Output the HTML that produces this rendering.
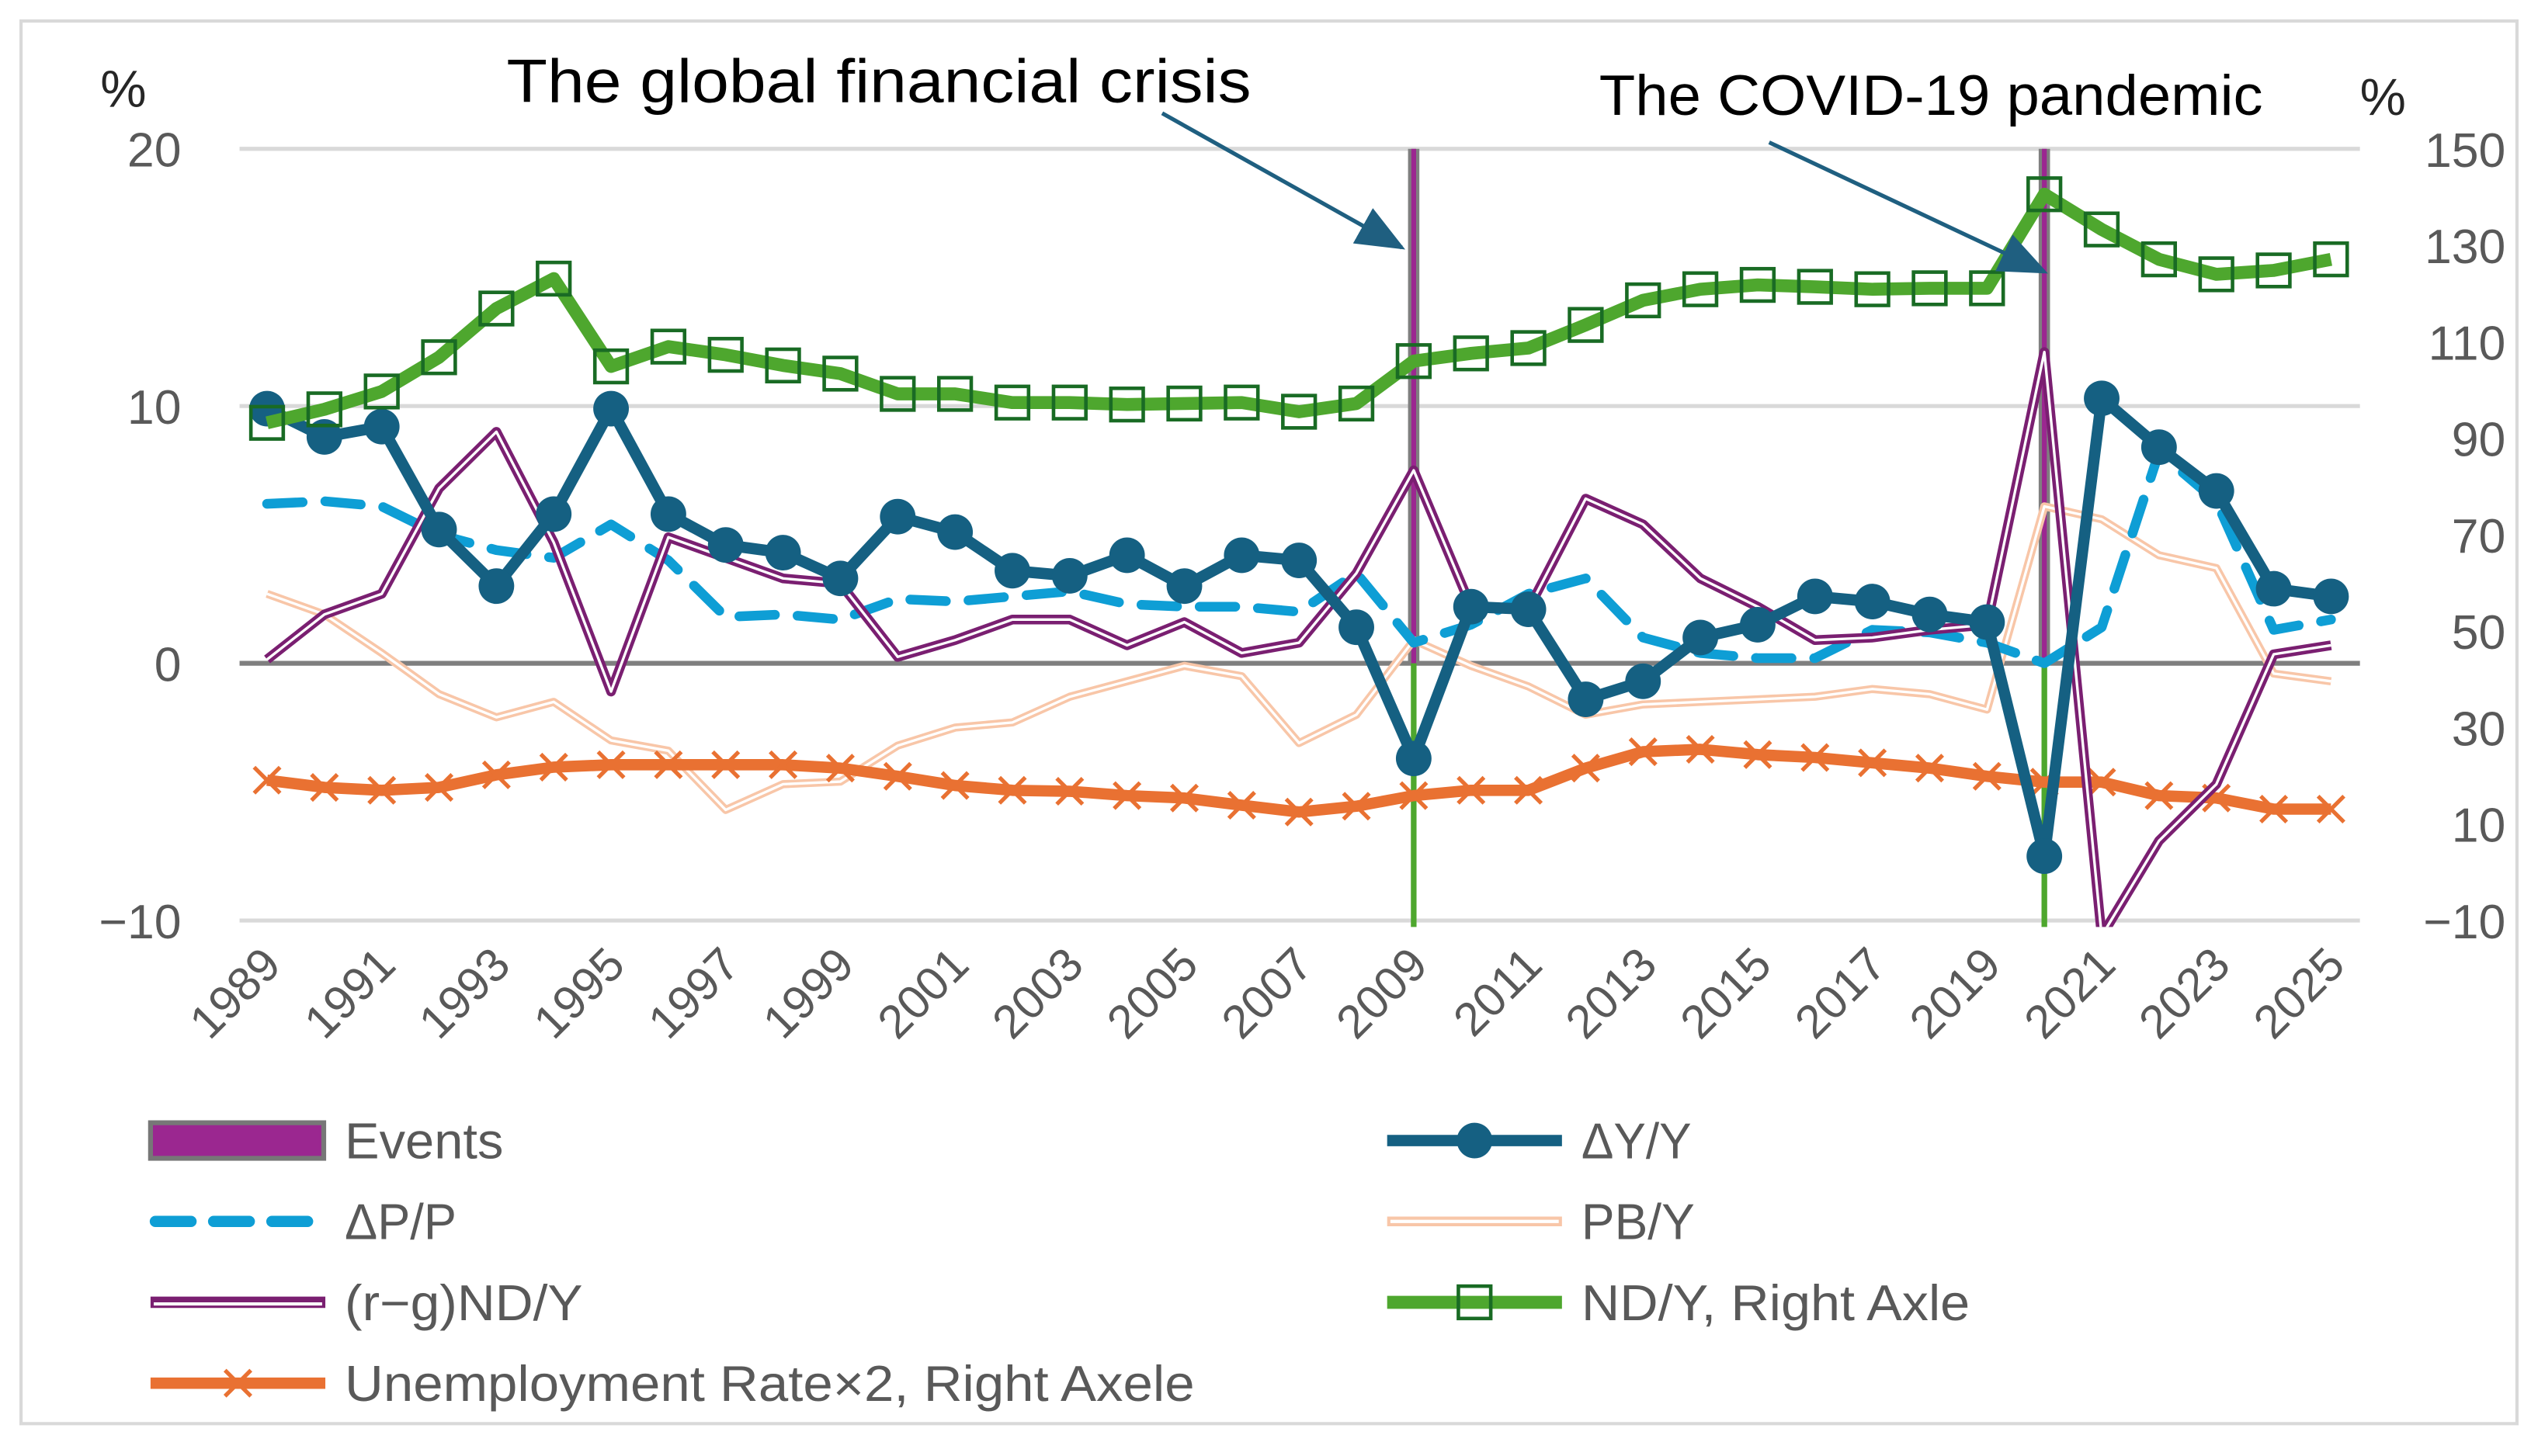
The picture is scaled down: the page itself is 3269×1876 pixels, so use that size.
<!DOCTYPE html>
<html><head><meta charset="utf-8"><style>
html,body{margin:0;padding:0;background:#fff;}
svg{display:block;font-family:"Liberation Sans","DejaVu Sans",sans-serif;}
</style></head><body>
<svg id="chart" width="3269" height="1876" viewBox="0 0 1568 900" preserveAspectRatio="none" xmlns="http://www.w3.org/2000/svg">
<rect x="13" y="13" width="1542" height="867" fill="#fff" stroke="#d9d9d9" stroke-width="2"/>
<defs><clipPath id="plotclip"><rect x="148" y="88" width="1312" height="485"/></clipPath>
<marker id="ah" markerWidth="12" markerHeight="10" refX="11" refY="5" orient="auto" markerUnits="strokeWidth"><path d="M0,0 L12,5 L0,10 z" fill="#1f5f80"/></marker></defs>
<g id="grid"></g>
<g id="events"></g>
<g id="series" clip-path="url(#plotclip)"></g>
<g id="axes"></g>
<text x="62" y="66" font-size="32" fill="#262626">%</text>
<text x="1458" y="71" font-size="32" fill="#262626">%</text>
<text x="313" y="63" font-size="38" fill="#000" textLength="460" lengthAdjust="spacingAndGlyphs">The global financial crisis</text>
<line x1="718" y1="70" x2="866" y2="153" stroke="#1f5f80" stroke-width="2.5" marker-end="url(#ah)"/>
<text x="988" y="71" font-size="35" fill="#000" textLength="410" lengthAdjust="spacingAndGlyphs">The COVID-19 pandemic</text>
<line x1="1093" y1="88" x2="1263" y2="168" stroke="#1f5f80" stroke-width="2.5" marker-end="url(#ah)"/>
<g id="legend"></g>
</svg>
<script>
const years=[];for(let y=1989;y<=2025;y++)years.push(y);
const dY=[9.9,8.8,9.2,5.2,3.0,5.8,9.9,5.8,4.6,4.3,3.3,5.7,5.1,3.6,3.4,4.2,3.0,4.2,4.0,1.4,-3.7,2.2,2.1,-1.4,-0.7,1.0,1.5,2.6,2.4,1.9,1.6,-7.5,10.3,8.4,6.7,2.9,2.6];
const dP=[6.2,6.3,6.1,5.0,4.4,4.1,5.4,4.0,1.8,1.9,1.7,2.5,2.4,2.6,2.8,2.3,2.2,2.2,2.0,3.5,0.8,1.5,2.7,3.3,1.0,0.4,0.2,0.2,1.3,1.2,0.8,0.0,1.4,8.2,6.3,1.3,1.7];
const rg=[0.15,1.9,2.7,6.8,9.0,4.7,-1.1,4.9,4.1,3.3,3.1,0.25,0.9,1.7,1.7,0.7,1.6,0.4,0.8,3.5,7.5,2.2,2.1,6.4,5.4,3.3,2.2,0.9,1.0,1.3,1.5,12.1,-10.6,-6.9,-4.7,0.35,0.7];
const pb=[2.7,1.9,0.4,-1.2,-2.1,-1.5,-3.0,-3.4,-5.7,-4.7,-4.6,-3.2,-2.5,-2.3,-1.3,-0.7,-0.1,-0.5,-3.1,-2.0,0.9,-0.1,-0.9,-2.0,-1.6,-1.5,-1.4,-1.3,-1.0,-1.2,-1.8,6.1,5.6,4.2,3.7,-0.4,-0.7];
const ndy=[93.2,96.0,99.7,106.8,116.9,123.1,104.9,109.0,107.3,105.1,103.4,99.2,99.2,97.4,97.4,97.0,97.2,97.4,95.5,97.2,106.0,107.6,108.7,113.5,118.6,120.9,121.8,121.4,120.9,121.1,121.1,140.6,133.3,127.1,124.0,124.8,127.1];
const unemp=[19.1,17.6,17.0,17.6,20.2,21.8,22.3,22.3,22.3,22.3,21.6,19.9,18.0,17.0,16.8,15.9,15.4,13.9,12.5,13.7,15.9,17.0,17.0,21.6,25.0,25.5,24.4,23.8,22.7,21.6,19.9,18.7,18.7,15.9,15.4,13.1,13.1];
const eventYears=[2009,2020];
const leftTicks=[20,10,0,-10];
const rightTicks=[150,130,110,90,70,50,30,10,-10];

const NS="http://www.w3.org/2000/svg";
const X=y=>165+(y-1989)*35.42;
const YL=v=>410-v*15.9;
const YR=v=>569-(v+10)*2.981;
function mk(tag,attrs,parent){const e=document.createElementNS(NS,tag);for(const k in attrs)e.setAttribute(k,attrs[k]);parent.appendChild(e);return e;}
const grid=document.getElementById('grid'),axes=document.getElementById('axes'),ser=document.getElementById('series'),ev=document.getElementById('events'),lg=document.getElementById('legend');

leftTicks.forEach(t=>{
  const l=mk('line',{x1:148,x2:1458,y1:YL(t),y2:YL(t),stroke:t===0?'#7f7f7f':'#d9d9d9','stroke-width':t===0?3:2.5},grid);
  
  
  const tx=mk('text',{x:112,y:YL(t)+11,'font-size':30,fill:'#595959','text-anchor':'end'},axes);
  tx.textContent=t<0?'\u2212'+Math.abs(t):String(t);
  
  
});
rightTicks.forEach(t=>{
  const tx=mk('text',{x:1548,y:YR(t)+11,'font-size':30,fill:'#595959','text-anchor':'end'},axes);
  tx.textContent=t<0?'\u2212'+Math.abs(t):String(t);
  
  
});
years.forEach(y=>{
  if((y-1989)%2)return;
  const x=X(y)+10,yy=598;
  const tx=mk('text',{x:x,y:yy,'font-size':29,fill:'#595959','text-anchor':'end',transform:`rotate(-45 ${x} ${yy})`},axes);
  tx.textContent=y;
  
  
});
eventYears.forEach(y=>{
  const x=X(y);
  const a=mk('rect',{x:x-3.5,y:YL(20),width:7,height:YL(0)-YL(20),fill:'#7f7f7f'},ev);
  
  
  const a2=mk('rect',{x:x-1.5,y:YL(20),width:3,height:YL(0)-YL(20),fill:'#9b2790'},ev);
  
  
  const b=mk('line',{x1:x,x2:x,y1:YL(0),y2:YL(-10)+4,stroke:'#4ea72e','stroke-width':3.5},ev);
  
  
});
function pts(arr,f){return arr.map((v,i)=>X(years[i])+','+f(v)).join(' ');}
function line(arr,f,attrs,name){const p=mk('polyline',Object.assign({points:pts(arr,f),fill:'none','stroke-linejoin':'round'},attrs),ser);return p;}
line(pb,YL,{stroke:'#f8c6a8','stroke-width':5},'pby-line');
line(pb,YL,{stroke:'#fff','stroke-width':1.6},'pby-line-inner');
line(unemp,YR,{stroke:'#e97132','stroke-width':7},'unemployment-line');
unemp.forEach((v,i)=>{const x=X(years[i]),y=YR(v),s=8;
  const g=mk('path',{d:`M${x-s},${y-s}L${x+s},${y+s}M${x-s},${y+s}L${x+s},${y-s}`,stroke:'#e97132','stroke-width':2.5,fill:'none'},ser);
  
  });
line(dP,YL,{stroke:'#0e9ed5','stroke-width':6,'stroke-dasharray':'22 14','stroke-linecap':'round'},'dp-line');
line(rg,YL,{stroke:'#7a1f71','stroke-width':6},'rg-line');
line(rg,YL,{stroke:'#fff','stroke-width':1.6},'rg-line-inner');
line(dY,YL,{stroke:'#156082','stroke-width':7},'dy-line');
dY.forEach((v,i)=>{const c=mk('circle',{cx:X(years[i]),cy:YL(v),r:11,fill:'#156082'},ser);
  
  });
line(ndy,YR,{stroke:'#4ea72e','stroke-width':8},'ndy-line');
ndy.forEach((v,i)=>{const r=mk('rect',{x:X(years[i])-10,y:YR(v)-10,width:20,height:20,fill:'none',stroke:'#196b24','stroke-width':2.2},ser);
  
  });

const legendRows=[
 {x:93,y:705,label:'Events',kind:'events',w:98},
 {x:857,y:705,label:'\u0394Y/Y',kind:'dy',w:68},
 {x:93,y:755,label:'\u0394P/P',kind:'dp',w:69},
 {x:857,y:755,label:'PB/Y',kind:'pb',w:70},
 {x:93,y:805,label:'(r\u2212g)ND/Y',kind:'rg',w:147},
 {x:857,y:805,label:'ND/Y, Right Axle',kind:'nd',w:240},
 {x:93,y:855,label:'Unemployment Rate\u00d72, Right Axele',kind:'un',w:525}];
legendRows.forEach(r=>{
  const g=mk('g',{},lg);
  
  
  const x0=r.x,x1=r.x+108,y=r.y,xm=(x0+x1)/2;
  if(r.kind==='events'){mk('rect',{x:x0,y:y-11,width:107,height:22,fill:'#9b2790',stroke:'#777','stroke-width':3},g);}
  if(r.kind==='dy'){mk('line',{x1:x0,x2:x1,y1:y,y2:y,stroke:'#156082','stroke-width':7},g);mk('circle',{cx:xm,cy:y,r:11,fill:'#156082'},g);}
  if(r.kind==='dp'){mk('line',{x1:x0+3,x2:x1,y1:y,y2:y,stroke:'#0e9ed5','stroke-width':7,'stroke-dasharray':'22 14','stroke-linecap':'round'},g);}
  if(r.kind==='pb'){mk('line',{x1:x0,x2:x1,y1:y,y2:y,stroke:'#f8c6a8','stroke-width':6},g);mk('line',{x1:x0+2,x2:x1-2,y1:y,y2:y,stroke:'#fff','stroke-width':2},g);}
  if(r.kind==='rg'){mk('line',{x1:x0,x2:x1,y1:y,y2:y,stroke:'#7a1f71','stroke-width':7},g);mk('line',{x1:x0+2,x2:x1-2,y1:y+1,y2:y+1,stroke:'#fff','stroke-width':2},g);}
  if(r.kind==='nd'){mk('line',{x1:x0,x2:x1,y1:y,y2:y,stroke:'#4ea72e','stroke-width':8},g);mk('rect',{x:xm-10,y:y-10,width:20,height:20,fill:'none',stroke:'#196b24','stroke-width':2.2},g);}
  if(r.kind==='un'){mk('line',{x1:x0,x2:x1,y1:y,y2:y,stroke:'#e97132','stroke-width':7},g);mk('path',{d:`M${xm-8},${y-8}L${xm+8},${y+8}M${xm-8},${y+8}L${xm+8},${y-8}`,stroke:'#e97132','stroke-width':2.5},g);}
  const t=mk('text',{x:x1+12,y:y+11,'font-size':31,fill:'#595959',textLength:r.w,lengthAdjust:'spacingAndGlyphs'},g);
  t.textContent=r.label;
});
</script>
</body></html>
